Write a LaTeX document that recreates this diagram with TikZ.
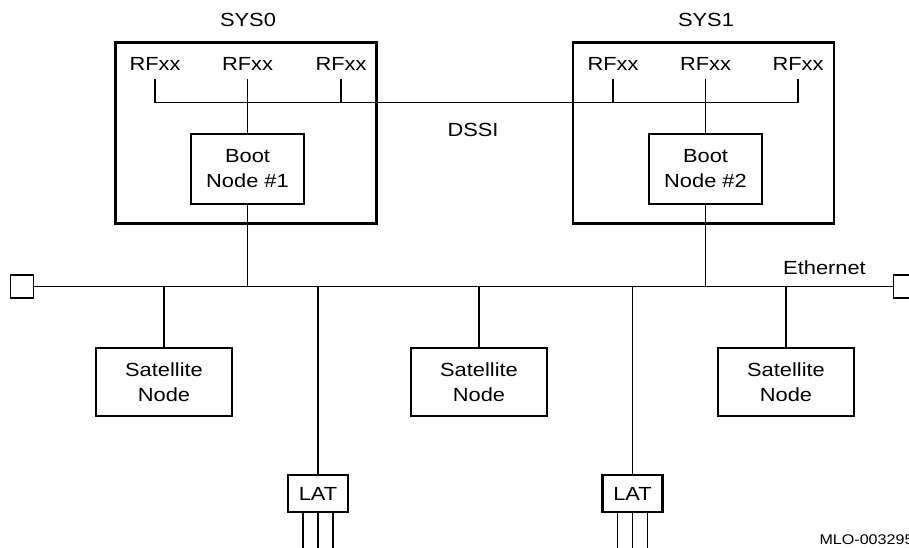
\documentclass[tikz,border=0pt]{standalone}
\usepackage{fontspec}
\setmainfont{Liberation Sans}[FakeStretch=1.15]
\usetikzlibrary{positioning}

\begin{document}
\begin{tikzpicture}[x=1pt,y=-1pt,font=\fontsize{19}{25}\selectfont]
  \tikzstyle{sys}=[draw,line width=2.6pt,minimum width=261pt,minimum height=181pt]
  \tikzstyle{boot}=[draw,line width=1.8pt,minimum width=113pt,minimum height=70pt,align=center]
  \tikzstyle{sat}=[draw,line width=2.6pt,minimum width=136pt,minimum height=68pt,align=center]
  \tikzstyle{lat}=[draw,line width=2.6pt,minimum width=60pt,minimum height=37pt,inner sep=0pt]
  \tikzstyle{term}=[draw,line width=1.8pt,minimum size=23pt,inner sep=0pt]
  \tikzstyle{disk}=[inner sep=0pt,minimum height=30pt]
  \tikzstyle{link}=[line width=1.2pt]

  \useasboundingbox (0,0) rectangle (909,548);

  % the two systems
  \node[sys]  (sys0)   at (246,133)   {};
  \node[sys]  (sys1)   at (703.5,133) {};
  \node       (sys0lbl) at (248,19.5) {SYS0};
  \node       (sys1lbl) at (706,19.5) {SYS1};

  \node[disk] (rfa0) at (155,64)   {RFxx};
  \node[disk] (rfb0) at (247.5,64) {RFxx};
  \node[disk] (rfc0) at (341,64)   {RFxx};
  \node[disk] (rfa1) at (613,64)   {RFxx};
  \node[disk] (rfb1) at (705.5,64) {RFxx};
  \node[disk] (rfc1) at (798,64)   {RFxx};

  \node[boot] (boot0) at (247.5,169) {Boot\\Node \#1};
  \node[boot] (boot1) at (705.5,169) {Boot\\Node \#2};

  % DSSI bus
  \draw[link] (rfa0.south) -- ++(0,23) coordinate (dssi)
              -- (rfc1.south |- dssi) -- (rfc1.south);
  \draw[link] (rfb0.south) -- (boot0.north);
  \draw[link] (rfb1.south) -- (boot1.north);
  \draw[link] (rfc0.south) -- (rfc0.south |- dssi);
  \draw[link] (rfa1.south) -- (rfa1.south |- dssi);
  \node (dssilbl) at (473,130) {DSSI};

  % Ethernet
  \node[term] (termL) at (22,286.5)  {};
  \node[term] (termR) at (905,286.5) {};
  \draw[link] (termL.east) -- (termR.west);
  \node (ethlbl) at (824.5,267.5) {Ethernet};

  \draw[link] (boot0.south) -- (boot0.south |- termL.east);
  \draw[link] (boot1.south) -- (boot1.south |- termL.east);

  \node[sat] (satA) at (164,382) {Satellite\\Node};
  \node[sat] (satB) at (479,382) {Satellite\\Node};
  \node[sat] (satC) at (786,382) {Satellite\\Node};
  \foreach \s in {satA,satB,satC}
    \draw[link] (\s.north |- termL.east) -- (\s.north);

  \node[lat] (lat0) at (318,493.5)   {LAT};
  \node[lat] (lat1) at (632.5,493.5) {LAT};
  \foreach \l in {lat0,lat1} {
    \draw[link] (\l.north |- termL.east) -- (\l.north);
    \foreach \dx in {-15,0,15}
      \draw[link] ([xshift=\dx pt]\l.south) -- ++(0,36);
  }

  \node[anchor=base west,font=\fontsize{14}{16}\selectfont] (mlo) at (816,544) {MLO-003295};
\end{tikzpicture}
\end{document}
